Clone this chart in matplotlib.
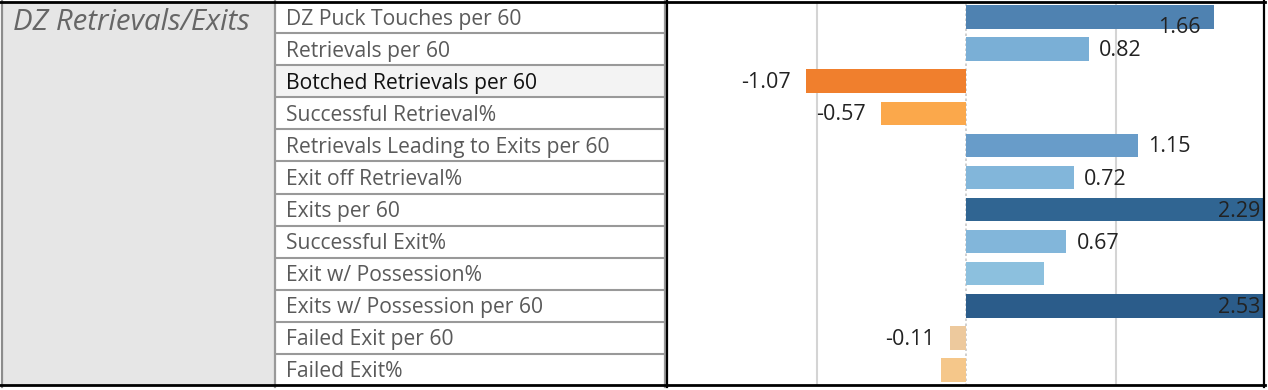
import matplotlib.pyplot as plt
from matplotlib.patches import Rectangle
from matplotlib.lines import Line2D

group = "DZ Retrievals/Exits"
metrics = ["DZ Puck Touches per 60", "Retrievals per 60", "Botched Retrievals per 60",
           "Successful Retrieval%", "Retrievals Leading to Exits per 60", "Exit off Retrieval%",
           "Exits per 60", "Successful Exit%", "Exit w/ Possession%",
           "Exits w/ Possession per 60", "Failed Exit per 60", "Failed Exit%"]
values = [1.66, 0.82, -1.07, -0.57, 1.15, 0.72, 2.29, 0.67, 0.52, 2.53, -0.11, -0.17]
show_value = [True, True, True, True, True, True, True, True, False, True, True, False]
colors = ["#4f82b1", "#7aafd6", "#f07f2d", "#fba84b", "#689cc9", "#82b6da",
          "#306592", "#82b6da", "#8cc0de", "#2b5c8a", "#edc99d", "#f5c78a"]
highlight = "Botched Retrievals per 60"

W, H = 1268, 390
fig = plt.figure(figsize=(W / 100, H / 100), dpi=100)
plt.rcParams['font.family'] = ['Open Sans', 'DejaVu Sans']

def fx(x):
    return x / W

def fy(y):
    return 1 - y / H

top, bottom = 1.0, 386.0
row_h = (bottom - top) / len(metrics)

# --- left table part ---
fig.patches.append(Rectangle((fx(2), fy(bottom)), fx(274) - fx(2), fy(top) - fy(bottom),
                             transform=fig.transFigure, facecolor="#e6e6e6", edgecolor="none"))
fig.text(fx(13), fy(22), group, fontsize=21.2, style="italic", color="#666666",
         va="center", ha="left")

for i, m in enumerate(metrics):
    y0 = top + i * row_h
    if m == highlight:
        fig.patches.append(Rectangle((fx(276), fy(y0 + row_h)), fx(664) - fx(276), row_h / H,
                                     transform=fig.transFigure, facecolor="#f3f3f3", edgecolor="none"))
    fig.text(fx(286), fy(y0 + row_h / 2 + 2), m, fontsize=15.2, color="#111111" if m == highlight else "#5a5a5a",
             va="center", ha="left")
    if i > 0:
        fig.lines.append(Line2D([fx(276), fx(664)], [fy(y0), fy(y0)], transform=fig.transFigure,
                                color="#999999", lw=1.5))

# borders
for x, c in [(2, "#8c8c8c"), (275, "#999999"), (664.5, "#999999"), (667, "#000000"), (1264, "#000000")]:
    fig.lines.append(Line2D([fx(x), fx(x)], [fy(0), fy(387)], transform=fig.transFigure, color=c, lw=1.6))
for y in [2, 385]:
    fig.lines.append(Line2D([0, fx(1265)], [fy(y), fy(y)], transform=fig.transFigure, color="black", lw=2))

# --- bar chart ---
ax = fig.add_axes([fx(667), fy(bottom), fx(1265) - fx(667), fy(top) - fy(bottom)])
ax.set_xlim(-2, 2)
ax.set_ylim(len(metrics) - 0.5, -0.5)
for s in ax.spines.values():
    s.set_visible(False)
ax.set_xticks([])
ax.set_yticks([])
for g in [-1, 1]:
    ax.axvline(g, color="#d4d4d4", lw=1.5, zorder=0)
ax.axvline(0, color="#c8c8c8", lw=1.2, ls=(0, (1.5, 1.5)), zorder=0)

pos = list(range(len(metrics)))
ax.barh(pos, values, height=0.73, color=colors, zorder=2)

xmax = 2.0
fs = 15.5
for i, (v, show) in enumerate(zip(values, show_value)):
    if not show:
        continue
    if v > 1.5:
        # labels that do not fit outside go inside the bar end
        if v < xmax:
            ax.text(v - 0.09, i + 0.32, f"{v:.2f}", ha="right", va="center", fontsize=fs,
                    color="#222222", zorder=3)
        else:
            ax.text(xmax - 0.03, i + 0.05, f"{v:.2f}", ha="right", va="center", fontsize=fs,
                    color="#222222", zorder=3)
    elif v >= 0:
        ax.text(v + 0.07, i + 0.05, f"{v:.2f}", ha="left", va="center", fontsize=fs, color="#222222")
    else:
        ax.text(v - 0.1, i + 0.05, f"{v:.2f}", ha="right", va="center", fontsize=fs, color="#222222")

fig.savefig("out.png", dpi=100)
